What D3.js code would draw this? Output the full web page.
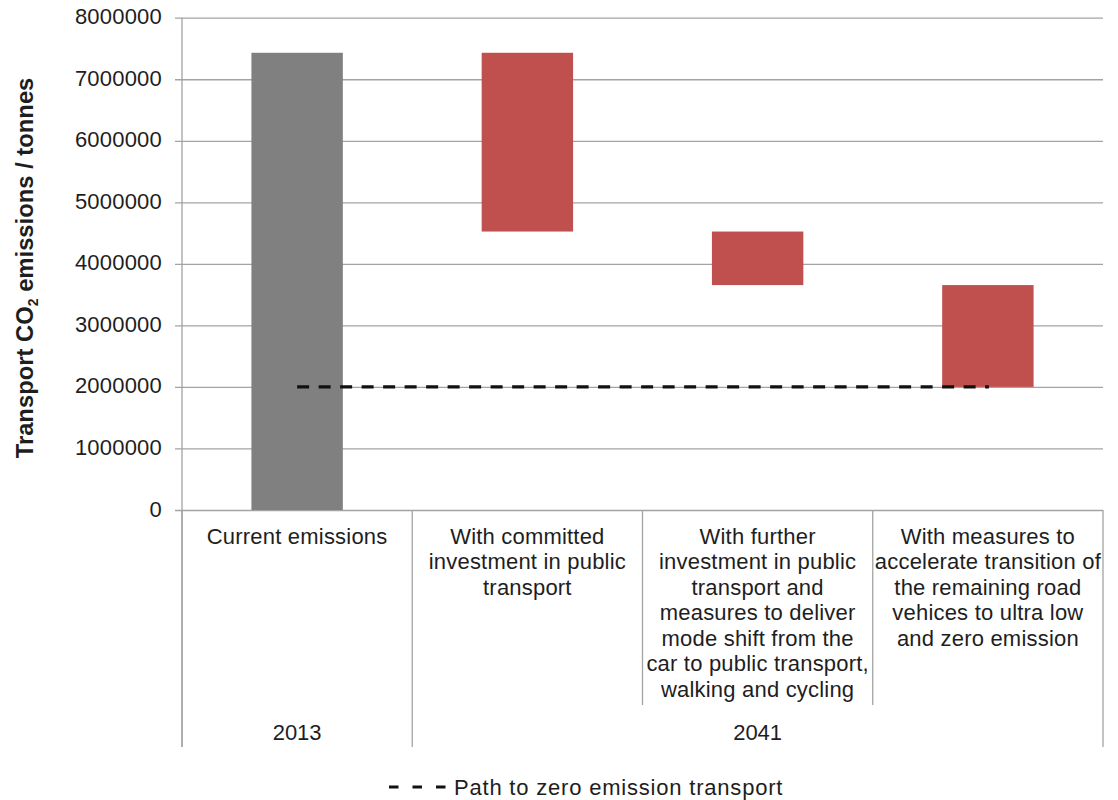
<!DOCTYPE html>
<html>
<head>
<meta charset="utf-8">
<script src="https://cdn.jsdelivr.net/npm/d3@7/dist/d3.min.js"></script>
<style>
  html, body { margin: 0; padding: 0; background: #fff; }
  svg { display: block; }
  text { font-family: "Liberation Sans", Arial, sans-serif; fill: #1e1e1e; }
</style>
</head>
<body>
<svg id="chart" width="1118" height="800"></svg>
<script>
// ---- Data ----
const categories = ["Current emissions", "With committed", "With further", "With measures"];
const categoryLines = [
  ["Current emissions"],
  ["With committed", "investment in public", "transport"],
  ["With further", "investment in public", "transport and", "measures to deliver", "mode shift from the", "car to public transport,", "walking and cycling"],
  ["With measures to", "accelerate transition of", "the remaining road", "vehices to ultra low", "and zero emission"]
];
const groupLabels = ["2013", "2041"];
const groupSpans = [1, 3];
const barStart = [0, 7430000, 4525000, 3655000];
const barEnd = [7430000, 4525000, 3655000, 2000000];
const barKind = ["total", "change", "change", "change"];
const pathValues = [2000000, 2000000, 2000000, 2000000];
const yTicks = [0, 1000000, 2000000, 3000000, 4000000, 5000000, 6000000, 7000000, 8000000];
const legendLabel = "Path to zero emission transport";

// ---- Layout ----
const plotLeft = 182, plotRight = 1103, plotTop = 17.7, plotBottom = 510;
const svg = d3.select("#chart");
const x = d3.scaleBand().domain(categories).range([plotLeft, plotRight]).paddingInner(0).paddingOuter(0);
const y = d3.scaleLinear().domain([0, 8000000]).range([plotBottom, plotTop]);
const colors = { total: "#808080", change: "#C0504D" };
const gridColor = "#a3a3a3";

// gridlines + ticks
const yAxis = d3.axisLeft(y).tickValues(yTicks).tickFormat(d3.format("d"))
  .tickSizeInner(-(plotRight - plotLeft)).tickSizeOuter(0).tickPadding(0);
const gy = svg.append("g").attr("transform", `translate(${plotLeft},0)`).call(yAxis);
gy.select(".domain").remove();
gy.selectAll(".tick line").attr("stroke", gridColor).attr("stroke-width", 1.3).attr("x1", -7);
gy.selectAll(".tick text")
  .attr("x", -20).attr("dy", null).attr("y", 6)
  .style("font-size", "22px").style("letter-spacing", "0.2px").attr("fill", "#1e1e1e").attr("text-anchor", "end");

// y axis line
svg.append("line").attr("x1", plotLeft).attr("x2", plotLeft).attr("y1", plotTop).attr("y2", 747)
  .attr("stroke", gridColor).attr("stroke-width", 1.3);

// category dividers
const boundaries = categories.map(c => x(c)).concat([plotRight]);
let groupEdges = [0];
groupSpans.forEach(s => groupEdges.push(groupEdges[groupEdges.length - 1] + s));
svg.append("g").selectAll("line").data(boundaries).join("line")
  .attr("x1", d => d).attr("x2", d => d)
  .attr("y1", plotBottom)
  .attr("y2", (d, i) => groupEdges.includes(i) ? 747 : 705)
  .attr("stroke", gridColor).attr("stroke-width", 1.3);

// bars
const bw = x.bandwidth() * 0.397;
svg.append("g").selectAll("rect").data(categories).join("rect")
  .attr("x", d => x(d) + x.bandwidth() / 2 - bw / 2)
  .attr("width", bw)
  .attr("y", (d, i) => y(Math.max(barStart[i], barEnd[i])))
  .attr("height", (d, i) => Math.abs(y(barStart[i]) - y(barEnd[i])))
  .attr("fill", (d, i) => colors[barKind[i]]);

// path line
const line = d3.line().x((d, i) => x(categories[i]) + x.bandwidth() / 2 + (i === pathValues.length - 1 ? 1 : 0)).y(d => y(d));
svg.append("path").datum(pathValues).attr("d", line)
  .attr("fill", "none").attr("stroke", "#111").attr("stroke-width", 3.2)
  .attr("stroke-dasharray", "12,9.5");

// category labels
const lineH = 25.5;
categories.forEach((c, i) => {
  const t = svg.append("text").attr("text-anchor", "middle").style("font-size", "22px")
    .style("letter-spacing", "0.2px")
    .attr("x", x(c) + x.bandwidth() / 2).attr("y", 543.5);
  categoryLines[i].forEach((ln, j) => {
    t.append("tspan").attr("x", x(c) + x.bandwidth() / 2).attr("y", 543.5 + j * lineH).text(ln);
  });
});

// group labels
groupLabels.forEach((g, i) => {
  const a = boundaries[groupEdges[i]], b = boundaries[groupEdges[i + 1]];
  svg.append("text").attr("text-anchor", "middle").style("font-size", "22px")
    .attr("x", (a + b) / 2).attr("y", 740).text(g);
});

// y axis title
const title = svg.append("text")
  .attr("transform", "translate(33,268) rotate(-90)")
  .attr("text-anchor", "middle")
  .style("font-size", "23.8px").style("font-weight", "bold");
title.append("tspan").text("Transport CO");
title.append("tspan").text("2").style("font-size", "14px").attr("dy", 5);
title.append("tspan").text(" emissions / tonnes").attr("dy", -5);

// legend
svg.append("line").attr("x1", 389).attr("x2", 449).attr("y1", 787).attr("y2", 787)
  .attr("stroke", "#111").attr("stroke-width", 3.2).attr("stroke-dasharray", "9.5,14");
svg.append("text").attr("x", 454).attr("y", 795).style("font-size", "22px")
  .style("letter-spacing", "0.8px").text(legendLabel);
</script>
</body>
</html>
